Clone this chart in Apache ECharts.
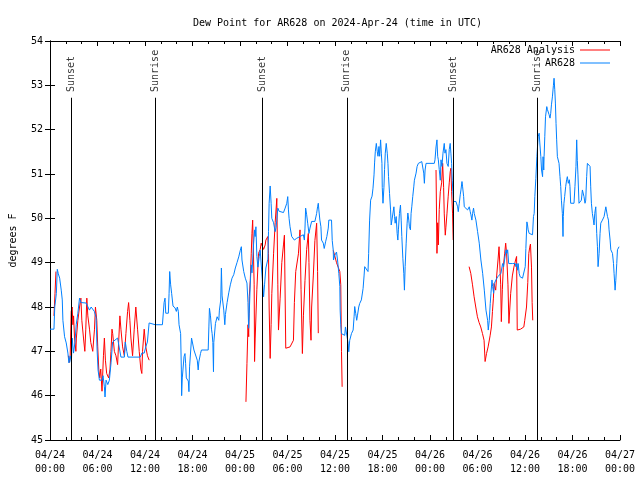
<!DOCTYPE html>
<html><head><meta charset="utf-8">
<script src="https://cdn.jsdelivr.net/npm/echarts@6/dist/echarts.min.js"></script>
<style>html,body{margin:0;padding:0;background:#fff}#c{width:640px;height:480px}</style>
</head><body><div id="c"></div>
<script>
const FONT = 'DejaVu Sans Mono';
const xTickLabels = ['04/24\n00:00','04/24\n06:00','04/24\n12:00','04/24\n18:00',
  '04/25\n00:00','04/25\n06:00','04/25\n12:00','04/25\n18:00',
  '04/26\n00:00','04/26\n06:00','04/26\n12:00','04/26\n18:00','04/27\n00:00'];
const sunNames = ['Sunset','Sunrise','Sunset','Sunrise','Sunset','Sunrise'];
const sunHours = [2.65, 13.33, 26.78, 37.5, 50.91, 61.52];

// hours since 04/24 00:00 UTC
const blueHours = [0,0.5,0.6,0.8,0.92,1.05,1.22,1.42,1.55,1.63,1.84,2.05,2.26,2.39,2.55,2.7,2.8,2.97,3.15,3.31,3.52,3.73,3.9,4.15,4.56,4.98,5.2,5.4,5.6,5.82,5.95,6.07,6.24,6.58,6.7,6.87,6.95,7.08,7.3,7.5,7.71,7.91,8.1,8.54,8.75,8.96,9.4,9.51,9.7,9.85,11.4,11.6,11.9,12.1,12.3,12.52,13.3,14.2,
14.41,14.53,14.62,14.95,15.04,15.12,15.24,15.37,15.54,15.8,15.96,16.08,16.21,16.3,16.5,16.59,16.63,16.71,16.93,17.05,17.13,17.22,17.47,17.55,17.63,17.88,18.06,18.18,18.6,18.72,18.8,19.01,19.13,19.98,20.07,20.14,20.27,20.4,20.48,20.57,20.65,20.69,20.9,21.11,21.32,21.4,21.57,21.65,21.74,21.95,22.08,22.16,22.37,22.58,22.78,22.99,23.21,23.41,23.62,23.84,24.04,24.17,24.25,24.47,24.67,24.88,25.01,25.09,25.17,25.3,25.42,25.51,25.72,25.85,25.92,26.01,26.13,26.26,26.43,26.55,26.68,26.98,27.1,27.27,27.52,27.6,27.68,27.81,27.93,28.02,28.24,28.44,28.56,28.65,28.78,28.94,29.07,29.49,29.7,29.91,30.03,30.12,30.2,30.32,30.53,30.66,30.87,31.16,31.38,31.58,31.79,32.0,32.13,32.21,32.29,32.42,32.55,32.71,32.84,33.05,33.26,33.46,33.68,33.8,33.89,33.96,34.09,34.22,34.3,34.52,34.64,34.81,34.97,35.15,35.22,35.56,35.65,35.78,35.81,35.98,36.19,36.32,36.48,36.61,36.65,36.73,36.82,37.03,37.23,37.32,37.45,37.66,37.74,37.86,38.08,38.29,38.41,38.49,38.62,38.74,38.83,39.0,39.12,39.33,39.55,39.67,39.75,39.96,40.17,40.25,40.37,40.5,40.68,40.8,40.93,41.0,41.09,41.22,41.34,41.43,41.55,41.64,41.76,41.85,41.93,41.97,42.06,42.18,42.26,42.35,42.47,42.6,42.69,42.76,42.89,43.02,43.1,43.32,43.44,43.52,43.6,43.73,43.85,43.94,44.01,44.14,44.27,44.36,44.44,44.57,44.69,44.77,44.86,44.99,45.11,45.2,45.32,45.4,45.53,45.61,45.7,45.82,45.95,46.03,46.24,46.37,46.53,46.78,46.96,47.09,47.21,47.29,47.38,47.5,47.71,48.54,48.63,48.76,48.88,48.97,49.05,49.17,49.3,49.39,49.51,49.64,49.8,49.89,50.01,50.14,50.3,50.43,50.55,50.64,50.73,50.81,50.89,50.98,51.15,51.28,51.49,51.57,51.7,51.82,51.91,52.04,52.12,52.25,52.33,52.54,52.75,52.96,53.08,53.17,53.29,53.38,53.5,53.59,53.8,54.01,54.22,54.43,54.65,54.86,55.07,55.28,55.36,55.49,55.61,55.7,55.83,55.91,56.04,56.12,56.33,56.46,56.55,56.75,56.96,57.17,57.3,57.47,57.6,57.72,57.81,57.94,58.14,58.44,58.77,58.85,58.98,59.06,59.14,59.26,59.39,59.57,59.69,59.9,60.03,60.11,60.24,60.32,60.4,60.53,60.74,60.95,61.07,61.16,61.24,61.37,61.5,61.66,61.79,61.87,62.0,62.09,62.22,62.28,62.37,62.41,62.5,62.59,62.75,62.84,62.91,63.04,63.16,63.25,63.34,63.46,63.59,63.67,63.76,63.84,63.92,64.0,64.09,64.3,64.42,64.51,64.6,64.72,64.8,64.84,64.92,65.01,65.14,65.26,65.35,65.47,65.6,65.68,65.77,65.98,66.19,66.31,66.44,66.53,66.61,66.69,66.82,66.95,67.12,67.25,67.38,67.45,67.58,67.67,67.79,67.88,68.0,68.22,68.3,68.39,68.51,68.64,68.72,68.81,68.94,69.06,69.15,69.23,69.36,69.48,69.57,69.78,69.99,70.21,70.33,70.42,70.54,70.62,70.75,70.84,71.05,71.18,71.25,71.38,71.47,71.59,71.68,71.88];
const blueDew = [47.5,47.5,48.0,48.3,48.85,48.75,48.65,48.38,48.16,47.7,47.33,47.19,46.96,46.74,46.9,46.75,47.3,46.96,47.2,47.6,47.86,48.2,48.1,48.09,48.09,47.93,48.0,48.04,47.9,47.77,47.03,46.58,46.35,46.35,46.45,46.2,45.97,46.35,46.25,46.35,46.74,47.21,47.25,47.3,47.3,46.87,46.87,47.21,47.0,46.87,46.87,46.96,46.96,47.1,47.21,47.64,47.6,47.6,
48.1,48.2,47.86,47.86,48.3,48.8,48.5,48.3,48.02,47.98,47.9,48.0,47.9,47.6,47.4,46.6,46.0,46.4,46.88,46.95,46.73,46.4,46.33,46.09,46.65,47.3,47.27,47.03,46.8,46.58,46.76,46.95,47.03,47.03,47.55,47.97,47.8,47.5,47.4,47.2,46.54,47.2,47.63,47.78,47.7,47.93,48.16,48.88,48.25,47.93,47.6,47.83,48.1,48.32,48.5,48.65,48.73,48.88,49.0,49.13,49.28,49.36,49.06,48.8,48.65,48.54,48.1,47.52,47.86,48.54,48.95,48.77,49.44,49.74,49.59,49.81,49.14,48.9,49.14,49.28,49.32,48.23,48.5,48.88,49.08,49.7,50.34,50.73,50.34,50.0,49.9,49.7,49.8,49.96,50.23,50.16,50.13,50.13,50.23,50.34,50.49,50.19,50.0,49.81,49.59,49.63,49.51,49.55,49.51,49.59,49.55,49.63,49.51,49.78,50.23,50.08,49.89,49.66,49.78,49.93,49.93,49.93,50.11,50.26,50.34,50.19,49.96,49.81,49.51,49.44,49.32,49.47,49.59,49.78,49.96,49.96,49.5,49.28,49.06,49.17,49.24,49.06,48.76,48.46,47.93,47.6,47.4,47.4,47.36,47.55,47.59,47.18,46.99,47.25,47.4,47.48,47.78,48.01,47.85,47.7,47.8,48.0,48.08,48.16,48.42,48.7,48.91,48.88,48.8,49.21,49.96,50.41,50.5,50.68,50.98,51.25,51.5,51.69,51.5,51.4,51.62,51.4,51.77,51.47,51.24,50.7,50.34,50.7,51.1,51.47,51.69,51.47,51.24,50.94,50.56,50.19,49.85,49.81,50.26,50.04,49.89,50.04,49.66,49.51,49.74,50.11,50.3,49.96,49.59,49.1,48.76,48.38,48.91,49.44,49.89,50.12,49.96,49.81,49.74,50.11,50.26,50.49,50.71,50.86,51.02,51.17,51.24,51.24,51.28,51.24,51.02,50.79,51.09,51.24,51.24,51.24,51.32,51.61,51.77,51.4,51.32,51.1,50.86,51.32,51.17,51.47,51.69,51.47,51.55,51.24,51.17,51.55,51.69,51.47,51.24,50.86,50.6,50.38,50.34,50.38,50.26,50.15,50.34,50.53,50.64,50.83,50.71,50.49,50.26,50.23,50.19,50.26,50.15,50.08,49.96,50.11,50.23,50.11,49.96,49.7,49.44,49.06,48.76,48.38,47.93,47.7,47.48,47.7,48.08,48.31,48.61,48.46,48.31,48.53,48.61,48.65,48.68,48.68,48.76,48.98,48.91,49.13,49.29,49.21,49.29,48.98,48.96,48.98,48.98,48.91,48.98,48.83,48.98,48.76,48.68,48.72,48.65,48.68,48.91,49.32,49.92,49.85,49.74,49.66,49.63,49.63,50.04,50.11,50.49,50.9,51.39,51.84,51.92,51.7,51.39,51.09,50.94,51.39,51.09,51.39,51.84,52.29,52.52,52.45,52.41,52.34,52.26,52.37,52.56,52.74,53.0,53.16,52.9,52.6,52.14,51.77,51.39,51.24,50.94,50.72,50.41,50.11,49.59,50.04,50.34,50.49,50.72,50.87,50.94,50.79,50.87,50.72,50.34,50.32,50.34,50.72,51.17,51.77,51.3,50.98,50.34,50.38,50.41,50.64,50.68,50.49,50.34,50.41,50.94,51.24,51.2,51.17,50.71,50.34,50.11,49.96,49.85,50.11,50.26,49.66,49.36,48.91,49.21,49.66,49.89,49.96,50.04,50.26,50.3,50.04,49.96,49.74,49.51,49.29,49.21,48.98,48.76,48.38,48.6,48.98,49.29,49.36];

// null marks a gap in the analysis
const redHours = [0.5,0.63,0.75,1.5,2.32,2.45,2.55,2.68,2.8,2.89,2.98,3.1,3.27,3.33,3.52,3.73,3.9,4.02,4.23,4.4,4.52,4.65,4.78,4.99,5.15,5.4,5.62,5.74,5.91,6.03,6.16,6.28,6.41,6.57,6.75,6.87,7.0,7.16,7.41,7.58,7.7,7.83,7.92,8.13,8.33,8.54,8.67,8.83,8.96,9.17,9.39,9.59,9.8,9.93,10.09,10.22,10.43,10.64,10.84,11.06,11.27,11.47,11.6,11.69,11.9,12.1,12.31,12.53,
18,
24.75,24.88,25.01,25.1,25.17,25.3,25.42,25.51,25.6,25.72,25.79,25.84,25.92,26.13,26.34,26.55,26.68,26.98,27.18,27.27,27.52,27.6,27.68,27.81,27.93,28.02,28.24,28.44,28.65,28.78,28.86,29.07,29.28,29.49,29.61,29.78,30.32,30.75,30.87,31.04,31.38,31.58,31.71,31.88,32.01,32.21,32.42,32.63,32.71,32.84,32.97,33.05,33.26,33.46,33.68,33.8,33.89,
35,
35.78,35.98,36.19,36.4,36.61,36.73,36.82,36.9,
43,
48.76,48.88,48.97,49.05,49.17,49.3,49.47,49.6,49.72,49.8,49.93,50.01,50.14,50.3,50.43,50.55,50.64,50.73,50.85,50.93,
52,
52.94,53.15,53.37,53.57,53.78,53.99,54.2,54.41,54.63,54.83,54.96,55.14,55.34,55.59,55.76,55.89,56.01,56.09,56.21,56.3,56.42,56.59,56.72,56.84,56.93,57.01,57.14,57.26,57.43,57.56,57.68,57.85,57.97,58.19,58.4,58.6,58.81,58.94,59.02,59.22,59.44,59.85,59.97,60.19,60.35,60.48,60.6,60.69,60.82,60.9,60.98];
const redDew = [47.8,48.3,48.8,null,46.9,46.75,46.9,47.9,48.0,47.6,47.8,47.3,47.0,47.3,47.7,48.0,48.2,47.7,47.3,47.0,47.5,48.2,47.8,47.5,47.2,47.0,47.5,48.0,47.7,47.1,46.6,46.4,46.6,46.1,46.9,47.3,46.8,46.5,46.4,46.6,47.0,47.5,47.4,47.0,46.9,46.7,47.2,47.8,47.5,47.1,46.9,47.4,47.9,48.1,47.7,47.3,46.9,47.5,48.0,47.5,47.0,46.6,46.5,47.0,47.5,47.1,46.9,46.8,
null,
45.86,46.73,47.6,47.33,48.23,48.6,49.2,49.66,49.96,49.96,48.5,46.77,47.3,48.4,49.21,49.3,49.44,49.3,49.4,49.51,49.59,49.2,48.0,46.84,47.6,48.3,49.2,49.9,50.45,48.5,47.48,48.2,49.0,49.4,49.62,47.07,47.1,47.25,48.1,48.8,49.2,49.74,48.4,46.95,47.8,48.6,49.3,49.66,49.0,47.7,47.25,48.0,48.7,49.5,49.89,48.8,47.41,
null,
49.28,49.15,49.0,48.9,48.8,48.5,47.0,46.2,
null,
51.09,49.21,49.9,49.4,50.2,50.6,50.8,51.24,50.7,50.1,49.62,49.8,50.1,50.5,50.8,51.05,51.13,50.6,50.1,49.51,
null,
48.91,48.76,48.5,48.23,48.0,47.78,47.65,47.55,47.4,47.25,46.77,46.95,47.1,47.35,47.55,47.9,48.2,48.53,48.55,48.38,48.7,49.06,49.36,49.4,48.5,47.67,48.4,48.9,49.2,49.44,49.2,48.5,47.63,48.3,48.7,48.9,49.06,49.14,47.48,47.5,47.5,47.55,47.7,48.0,48.55,49.21,49.35,49.42,48.9,48.1,47.7];

const zip = (a, b) => a.map((h, i) => [h, b[i] === null ? '-' : b[i]]);
const chart = echarts.init(document.getElementById('c'), null, {renderer: 'canvas'});
const txt = {fontFamily: FONT, fontSize: 10, color: '#000'};
const axisCommon = {
  axisLine: {show: true, lineStyle: {color: '#000', width: 1}},
  axisTick: {show: true, inside: true, length: 5, lineStyle: {color: '#000'}},
  splitLine: {show: false}
};
const option = {
  animation: false,
  backgroundColor: '#fff',
  title: {text: 'Dew Point for AR628 on 2024-Apr-24 (time in UTC)', left: 188, top: 13,
    textStyle: Object.assign({fontWeight: 'normal'}, txt)},
  legend: [
    {data: ['AR628 Analysis'], right: 30, top: 45, orient: 'vertical', align: 'right', padding: 0,
      itemWidth: 30, itemHeight: 8, textStyle: txt, icon: 'path://M0,4L30,4L30,5L0,5Z'},
    {data: ['AR628'], right: 30, top: 58, orient: 'vertical', align: 'right', padding: 0,
      itemWidth: 30, itemHeight: 8, textStyle: txt, icon: 'path://M0,4L30,4L30,5L0,5Z'}
  ],
  grid: {left: 47, right: 20, top: 41, bottom: 40},
  xAxis: [
    Object.assign({type: 'value', min: 0, max: 72, interval: 6, position: 'bottom',
      minorTick: {show: true, splitNumber: 3, length: 3, lineStyle: {color: '#000'}},
      axisLabel: Object.assign({margin: 8, lineHeight: 14, formatter: v => xTickLabels[Math.round(v / 6)]}, txt)}, axisCommon),
    Object.assign({type: 'value', min: 0, max: 72, interval: 6, position: 'top',
      minorTick: {show: true, splitNumber: 3, length: 3, lineStyle: {color: '#000'}},
      axisLabel: {show: false}}, axisCommon)
  ],
  yAxis: [
    Object.assign({type: 'value', min: 45, max: 54, interval: 1, position: 'left',
      name: 'degrees F', nameLocation: 'middle', nameGap: 32, nameRotate: 90, nameTextStyle: txt,
      axisLabel: Object.assign({margin: 7}, txt)}, axisCommon),
    Object.assign({type: 'value', min: 45, max: 54, interval: 1, position: 'right',
      axisLabel: {show: false}}, axisCommon)
  ],
  series: [
    {name: 'AR628 Analysis', type: 'line', data: zip(redHours, redDew), showSymbol: false, symbol: 'none',
      connectNulls: false, lineStyle: {color: '#ff0000', width: 1}, itemStyle: {color: '#ff0000'}, z: 3},
    {name: 'AR628', type: 'line', data: zip(blueHours, blueDew), showSymbol: false, symbol: 'none',
      lineStyle: {color: '#0080ff', width: 1}, itemStyle: {color: '#0080ff'}, z: 4},
    {name: 'sun', type: 'scatter', symbolSize: 0, silent: true, z: 5,
      data: sunHours.map((h, i) => [h, 52.85, sunNames[i]]),
      label: Object.assign({show: true, position: [0, 0], rotate: 90, align: 'left', verticalAlign: 'middle',
        formatter: p => p.data[2]}, txt),
      markLine: {silent: true, symbol: 'none', label: {show: false},
        lineStyle: {color: '#000', width: 1, type: 'solid'},
        data: sunHours.map(h => [{coord: [h, 45]}, {coord: [h, 52.72]}])}}
  ]
};
chart.setOption(option);
</script></body></html>
